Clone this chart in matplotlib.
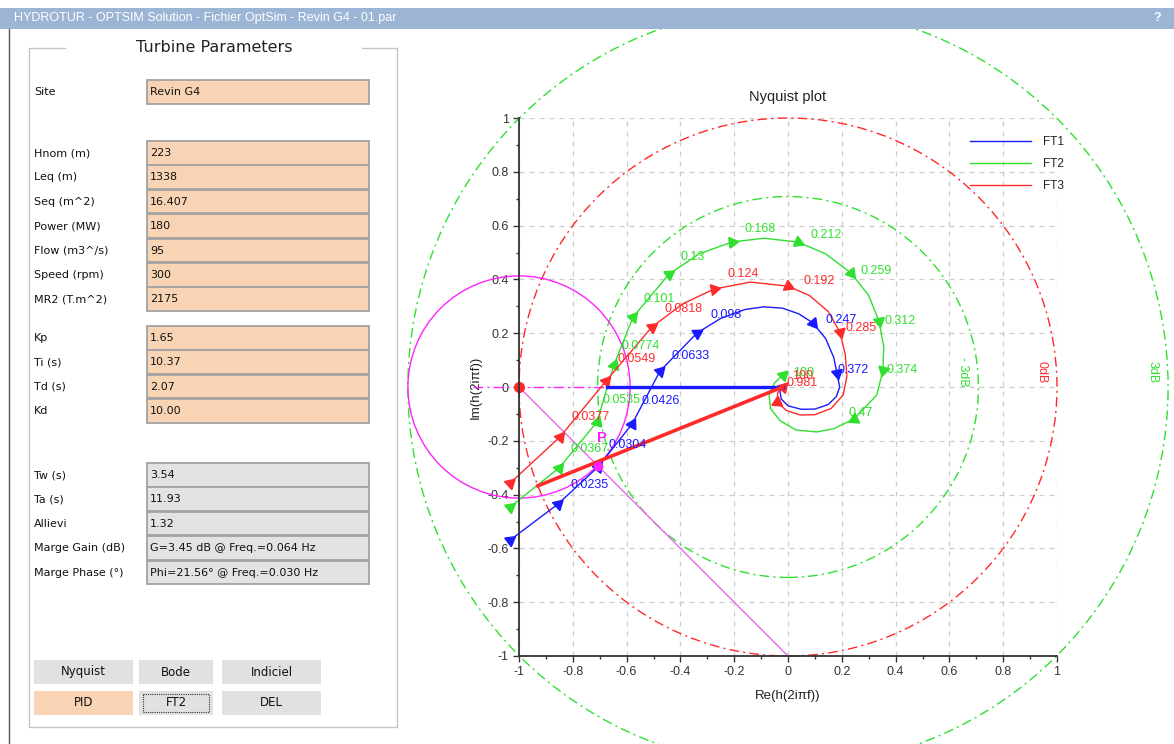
import matplotlib.pyplot as plt
import numpy as np
from matplotlib.patches import Rectangle, Circle
from matplotlib.ticker import MultipleLocator

# ---------------- Nyquist curves ----------------
ft1_re = [-1.033, -0.855, -0.706, -0.580, -0.476, -0.338, -0.25, -0.16, -0.09, -0.02, 0.04, 0.093,
          0.14, 0.17, 0.182, 0.192, 0.18, 0.15, 0.10, 0.05, 0.0, -0.025, -0.03, -0.02]
ft1_im = [-0.569, -0.435, -0.297, -0.138, 0.059, 0.201, 0.255, 0.288, 0.298, 0.293, 0.272, 0.238,
          0.18, 0.11, 0.052, 0.0, -0.035, -0.065, -0.082, -0.083, -0.07, -0.045, -0.015, 0.0]
ft1_idx = [0, 1, 2, 3, 4, 5, 11, 14]
ft1_freq = ['0.0192', '0.0235', '0.0304', '0.0426', '0.0633', '0.098', '0.247', '0.372']

ft2_re = [-1.033, -0.851, -0.710, -0.647, -0.576, -0.442, -0.33, -0.208, -0.09, 0.037, 0.14, 0.234,
          0.30, 0.338, 0.356, 0.353, 0.33, 0.245, 0.17, 0.108, 0.03, -0.03, -0.065, -0.07, -0.05, -0.019]
ft2_im = [-0.446, -0.301, -0.130, 0.082, 0.260, 0.420, 0.495, 0.539, 0.553, 0.539, 0.495, 0.424,
          0.34, 0.245, 0.15, 0.063, -0.03, -0.119, -0.155, -0.167, -0.16, -0.125, -0.08, -0.03, 0.015, 0.045]
ft2_idx = [0, 1, 2, 3, 4, 5, 7, 9, 11, 13, 15, 17, 25]
ft2_freq = ['0.0278', '0.0367', '0.0535', '0.0774', '0.101', '0.13', '0.168', '0.212', '0.259',
            '0.312', '0.374', '0.47', '100']

ft3_re = [-1.033, -0.848, -0.677, -0.506, -0.39, -0.275, -0.14, 0.0, 0.08, 0.15, 0.193, 0.213,
          0.219, 0.205, 0.16, 0.10, 0.045, -0.005, -0.041, -0.038, -0.02]
ft3_im = [-0.357, -0.186, 0.022, 0.223, 0.31, 0.364, 0.39, 0.375, 0.34, 0.28, 0.204, 0.12,
          0.04, -0.03, -0.08, -0.103, -0.104, -0.088, -0.056, -0.02, 0.0]
ft3_idx = [0, 1, 2, 3, 5, 7, 10, 18, 20]
ft3_freq = ['0.0285', '0.0377', '0.0549', '0.0818', '0.124', '0.192', '0.285', '0.981', '100']

# gain circles (|h| = const)
circle_r = [0.708, 1.0, 1.413]
circle_lbl = ['- 3dB', '0dB', '3dB']

# margins
gain_margin_db = 3.45
phase_margin_deg = 21.56
modulus_r = 0.413
end_re = -0.02

# ---------------- panel values ----------------
title_txt = 'HYDROTUR - OPTSIM Solution - Fichier OptSim - Revin G4 - 01.par'
site_lbl, site_val = 'Site', 'Revin G4'
plant_lbl = ['Hnom (m)', 'Leq (m)', 'Seq (m^2)', 'Power (MW)', 'Flow (m3^/s)', 'Speed (rpm)', 'MR2 (T.m^2)']
plant_val = ['223', '1338', '16.407', '180', '95', '300', '2175']
pid_lbl = ['Kp', 'Ti (s)', 'Td (s)', 'Kd']
pid_val = ['1.65', '10.37', '2.07', '10.00']
res_lbl = ['Tw (s)', 'Ta (s)', 'Allievi', 'Marge Gain (dB)', 'Marge Phase (°)']
res_val = ['3.54', '11.93', '1.32', 'G=3.45 dB @ Freq.=0.064 Hz', 'Phi=21.56° @ Freq.=0.030 Hz']
buttons = ['Nyquist', 'Bode', 'Indiciel', 'PID', 'FT2', 'DEL']

BLUE, GREEN, RED, MAG = '#1a1aff', '#2fe02f', '#ff2a2a', '#ff22ff'
PEACH, GREY = '#f8d4b4', '#e3e3e3'

W, H = 1174, 744
fig = plt.figure(figsize=(W / 100, H / 100), dpi=100)
fig.patch.set_facecolor('white')
plt.rcParams['font.family'] = ['Liberation Sans', 'DejaVu Sans']

# ==================== Nyquist plot ====================
ax = fig.add_axes([519 / W, (H - 656) / H, 538 / W, 538 / H])
ax.set_xlim(-1, 1)
ax.set_ylim(-1, 1)
ticks = np.arange(-1, 1.01, 0.2)
tick_lbl = ['-1', '-0.8', '-0.6', '-0.4', '-0.2', '0', '0.2', '0.4', '0.6', '0.8', '1']
ax.set_xticks(ticks)
ax.set_xticklabels(tick_lbl)
ax.set_yticks(ticks)
ax.set_yticklabels(tick_lbl)
ax.xaxis.set_minor_locator(MultipleLocator(0.1))
ax.yaxis.set_minor_locator(MultipleLocator(0.1))
ax.tick_params(which='major', length=4, width=1, colors='#333333', labelsize=9)
ax.tick_params(which='minor', length=2.5, width=1, colors='#333333')
for s in ['top', 'right']:
    ax.spines[s].set_visible(False)
for s in ['left', 'bottom']:
    ax.spines[s].set_color('#333333')
    ax.spines[s].set_linewidth(1.3)
ax.grid(True, color='#cccccc', linestyle=(0, (4, 4)), linewidth=0.9)
ax.set_axisbelow(True)
ax.set_title('Nyquist plot', fontsize=10.5, color='#222222', pad=12)
ax.set_xlabel('Re(h(2iπf))', fontsize=9.5, color='#222222', labelpad=8)
ax.set_ylabel('Im(h(2iπf))', fontsize=9.5, color='#222222', labelpad=4)

# gain circles
dashdot = (0, (7, 3, 1.5, 3))
for r, lab, col in zip(circle_r, circle_lbl, [GREEN, RED, GREEN]):
    ax.add_patch(Circle((0, 0), r, fill=False, ec=col, ls=dashdot, lw=1, clip_on=False))
    ax.text(r - 0.056, 0.056, lab, color=col, fontsize=9, rotation=-90,
            ha='center', va='center', clip_on=False)

# modulus margin circle and helpers
ax.add_patch(Circle((-1, 0), modulus_r, fill=False, ec=MAG, lw=1, clip_on=False))
ax.plot([-1, 0], [0, -1], color='#ee66ee', lw=1)
gm = 10 ** (-gain_margin_db / 20)
ax.plot([-1.17, -gm], [0, 0], color=MAG, lw=1, ls=dashdot, clip_on=False)

# curves
offsets = {
    'ft1': [(13, 18), (12, 19), (10, 22), (10, 23), (12, 15), (13, 18), (12, 3), (1, 3)],
    'ft2': [(13, 18), (11, 19), (5, 22), (8, 19), (10, 18), (11, 17), (12, 13), (13, 7),
            (10, 2), (6, 0), (4, 0), (-5, 6), (10, 2)],
    'ft3': [(13, 18), (12, 20), (12, 22), (13, 18), (13, 15), (15, 5), (6, 4), (10, 19), (9, 11)],
}
series = [('FT1', ft1_re, ft1_im, ft1_idx, ft1_freq, BLUE, offsets['ft1']),
          ('FT2', ft2_re, ft2_im, ft2_idx, ft2_freq, GREEN, offsets['ft2']),
          ('FT3', ft3_re, ft3_im, ft3_idx, ft3_freq, RED, offsets['ft3'])]
handles = []
for name, re, im, idx, freq, col, offs in series:
    re, im = np.array(re), np.array(im)
    h, = ax.plot(re, im, color=col, lw=1, clip_on=False)
    handles.append(h)
    for i, f, off in zip(idx, freq, offs):
        j0, j1 = (i, i + 1) if i + 1 < len(re) else (i - 1, i)
        ang = np.degrees(np.arctan2(im[j1] - im[j0], re[j1] - re[j0]))
        ax.plot(re[i], im[i], marker=(3, 0, ang - 90), ms=9, color=col, mec=col, clip_on=False)
        ax.annotate(f, (re[i], im[i]), xytext=off, textcoords='offset pixels',
                    color=col, fontsize=9, ha='left', va='center')

# gain margin / phase margin lines
ax.plot([-gm, end_re], [0, 0], color=BLUE, lw=2.4)
pm = np.radians(phase_margin_deg)
ax.plot([end_re, -np.cos(pm)], [0, -np.sin(pm)], color=RED, lw=2.6)
ax.plot(-1, 0, 'o', color=RED, ms=7, clip_on=False)
px, py = -1 + modulus_r * np.cos(np.pi / 4), -modulus_r * np.sin(np.pi / 4)
ax.plot(px, py, 'o', color=MAG, ms=6)
ax.annotate('P', (px, py), xytext=(4, 28), textcoords='offset pixels', color=MAG,
            fontsize=10.5, fontweight='bold', ha='center', va='center')

ax.legend(handles, ['FT1', 'FT2', 'FT3'], loc='upper left', bbox_to_anchor=(0.838, 0.966),
          frameon=False, handlelength=5.2, fontsize=8.5, borderpad=0, borderaxespad=0,
          handletextpad=1.0, labelspacing=0.85, labelcolor='#222222')

# ==================== application window (pixel coordinates) ====================
ui = fig.add_axes([0, 0, 1, 1])
ui.set_xlim(0, W)
ui.set_ylim(H, 0)
ui.axis('off')
ui.set_zorder(10)

ui.add_patch(Rectangle((0, 0), W, 8, fc='white', ec='none'))
ui.add_patch(Rectangle((0, 8), W, 21, fc='#9cb5d5', ec='none'))
ui.text(14, 18.5, title_txt, color='white', fontsize=9, va='center', ha='left')
ui.text(1157, 18, '?', color='white', fontsize=9, fontweight='bold', va='center', ha='center')
ui.plot([9, 9], [29, H], color='#555555', lw=1)

# group box
ui.plot([65, 29, 29, 397, 397, 362], [48, 48, 727, 727, 48, 48], color='#c4c4c4', lw=1)
ui.text(214, 48, 'Turbine Parameters', fontsize=11.5, color='#222222', ha='center', va='center',
        family=['DejaVu Sans'])


def field(y, lbl, val, fc):
    ui.add_patch(Rectangle((146.5, y), 222, 23.5, fc=fc, ec='#a2a2a2', lw=1.3))
    ui.text(34, y + 12, lbl, fontsize=8, color='#111111', va='center', ha='left', family=['DejaVu Sans'])
    ui.text(150, y + 12, val, fontsize=8, color='#111111', va='center', ha='left', family=['DejaVu Sans'])


field(80, site_lbl, site_val, PEACH)
for k, (l, v) in enumerate(zip(plant_lbl, plant_val)):
    field(141 + 24.4 * k, l, v, PEACH)
for k, (l, v) in enumerate(zip(pid_lbl, pid_val)):
    field(326 + 24.4 * k, l, v, PEACH)
for k, (l, v) in enumerate(zip(res_lbl, res_val)):
    field(463 + 24.4 * k, l, v, GREY)

btn_x = [(34, 99), (139, 74), (222, 99)]
for k, name in enumerate(buttons):
    bx, bw = btn_x[k % 3]
    by = 660 if k < 3 else 691
    fc = PEACH if name == 'PID' else '#e1e1e1'
    ui.add_patch(Rectangle((bx, by), bw, 24, fc=fc, ec='none'))
    if name == 'FT2':
        ui.add_patch(Rectangle((bx + 4, by + 3), bw - 8, 18, fc='none', ec='#333333',
                               lw=0.8, ls=(0, (1, 1))))
    ui.text(bx + bw / 2, by + 12, name, fontsize=8.5, color='#111111', ha='center', va='center',
            family=['DejaVu Sans'])

fig.savefig('out.png', dpi=100)
